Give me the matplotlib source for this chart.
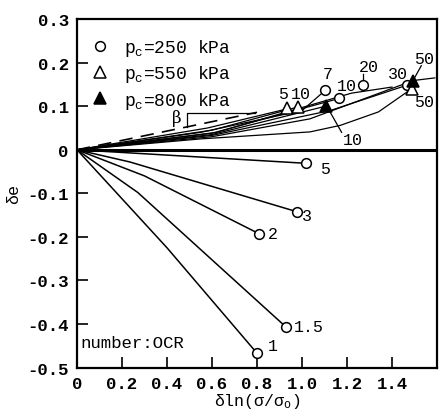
import matplotlib
matplotlib.use("Agg")
import matplotlib.pyplot as plt
import numpy as np

plt.rcParams['font.family'] = ['Liberation Mono', 'DejaVu Sans Mono']
plt.rcParams['mathtext.fontset'] = 'custom'
plt.rcParams['mathtext.rm'] = 'Liberation Mono'
plt.rcParams['mathtext.it'] = 'Liberation Mono'
plt.rcParams['mathtext.tt'] = 'Liberation Mono'
plt.rcParams['axes.unicode_minus'] = False

# ---- data ----
# negative branch (pc=250 kPa, circles), label = OCR
neg_labels = ['5', '3', '2', '1.5', '1']
neg_x = [[0, 1.016], [0, 0.235, 0.976], [0, 0.30, 0.81], [0, 0.27, 0.927], [0, 0.40, 0.80]]
neg_y = [[0, -0.031], [0, -0.028, -0.142], [0, -0.06, -0.193], [0, -0.098, -0.406], [0, -0.225, -0.467]]
neg_lab_x = [1.10, 1.02, 0.87, 1.03, 0.87]
neg_lab_y = [-0.044, -0.152, -0.193, -0.406, -0.45]

# positive branch curves
pos_x = [
    [0, 0.55, 1.00, 1.10],          # circle 7
    [0, 0.60, 1.166],               # circle 10
    [0, 0.62, 1.22, 1.40],          # circle 20
    [0, 0.60, 1.125, 1.465],        # circle 30
    [0, 0.58, 0.935],               # open tri 5
    [0, 0.60, 0.98],                # open tri 10
    [0, 0.55, 1.035, 1.17, 1.34, 1.487],  # open tri 50
    [0, 0.60, 1.105],               # filled tri 10
    [0, 0.60, 1.035, 1.495, 1.59],  # filled tri 50
]
pos_y = [
    [0, 0.040, 0.090, 0.135],
    [0, 0.038, 0.118],
    [0, 0.040, 0.130, 0.144],
    [0, 0.033, 0.090, 0.148],
    [0, 0.050, 0.094],
    [0, 0.045, 0.098],
    [0, 0.025, 0.041, 0.056, 0.087, 0.140],
    [0, 0.035, 0.100],
    [0, 0.030, 0.071, 0.159, 0.165],
]

circ_x = [1.10, 1.166, 1.27, 1.465]
circ_y = [0.137, 0.120, 0.148, 0.149]
circ_lab = ['7', '10', '20', '30']
circ_lab_x = [1.114, 1.198, 1.295, 1.428]
circ_lab_y = [0.175, 0.148, 0.192, 0.175]

otri_x = [0.935, 0.98, 1.487]
otri_y = [0.095, 0.099, 0.140]
otri_lab = ['5', '10', '50']
otri_lab_x = [0.917, 0.995, 1.54]
otri_lab_y = [0.129, 0.129, 0.110]

ftri_x = [1.105, 1.495]
ftri_y = [0.100, 0.159]
ftri_lab = ['10', '50']
ftri_lab_x = [1.228, 1.54]
ftri_lab_y = [0.023, 0.209]

dash_x = [0, 0.80]
dash_y = [0, 0.086]

fig = plt.figure(figsize=(4.41, 4.10), dpi=100)
ax = fig.add_axes([0.1746, 0.101, 0.8164, 0.850])
ax.set_xlim(0, 1.6)
ax.set_ylim(-0.5, 0.3)

lw = 1.1
ax.axhline(0, color='black', lw=2.2, zorder=2)

for xs, ys in zip(neg_x, neg_y):
    ax.plot(xs, ys, color='black', lw=lw, zorder=3)
    ax.plot(xs[-1], ys[-1], 'o', ms=7, mfc='white', mec='black', mew=1.1, zorder=5)
for lx, ly, t in zip(neg_lab_x, neg_lab_y, neg_labels):
    ax.text(lx, ly, t, fontsize=12, ha='center', va='center')

for xs, ys in zip(pos_x, pos_y):
    ax.plot(xs, ys, color='black', lw=0.9, zorder=3)

ax.plot(dash_x, dash_y, color='black', lw=1.2, ls=(0, (8, 5)), zorder=3)
# beta slope triangle
ax.plot([0.49, 0.49, 0.79], [0.053, 0.085, 0.085], color='black', lw=0.9)
ax.text(0.443, 0.073, 'β', fontsize=12, ha='center', va='center', family='DejaVu Serif')

h1, = ax.plot(circ_x, circ_y, 'o', ms=7, mfc='white', mec='black', mew=1.1, ls='none', zorder=5)
h2, = ax.plot(otri_x, otri_y, '^', ms=8, mfc='white', mec='black', mew=1.1, ls='none', zorder=5)
h3, = ax.plot(ftri_x, ftri_y, '^', ms=8, mfc='black', mec='black', mew=1.1, ls='none', zorder=5)

for lx, ly, t in zip(circ_lab_x, circ_lab_y, circ_lab):
    ax.text(lx, ly, t, fontsize=12, ha='center', va='center')
for lx, ly, t in zip(otri_lab_x, otri_lab_y, otri_lab):
    ax.text(lx, ly, t, fontsize=12, ha='center', va='center')
for lx, ly, t in zip(ftri_lab_x, ftri_lab_y, ftri_lab):
    ax.text(lx, ly, t, fontsize=12, ha='center', va='center')

# leader lines
ax.plot([1.27, 1.27], [0.158, 0.175], color='black', lw=0.9)
ax.plot([1.53, 1.50], [0.193, 0.165], color='black', lw=0.9)
ax.plot([1.11, 1.176], [0.100, 0.040], color='black', lw=0.9)

leg = ax.legend([h1, h2, h3],
                [r'p$_{\rm c}$=250 kPa', r'p$_{\rm c}$=550 kPa', r'p$_{\rm c}$=800 kPa'],
                loc='upper left', bbox_to_anchor=(0.0, 0.985), frameon=False,
                fontsize=13, handlelength=1.2, handletextpad=0.7, labelspacing=0.3,
                borderaxespad=0.3)

ax.text(0.016, -0.442, 'number:OCR', fontsize=12.5, ha='left', va='center')

ax.set_xticks([0, 0.2, 0.4, 0.6, 0.8, 1.0, 1.2, 1.4])
ax.set_xticklabels(['0', '0.2', '0.4', '0.6', '0.8', '1.0', '1.2', '1.4'])
ax.set_yticks([0.3, 0.2, 0.1, 0, -0.1, -0.2, -0.3, -0.4, -0.5])
ax.set_yticklabels(['0.3', '0.2', '0.1', '0', '-0.1', '-0.2', '-0.3', '-0.4', '-0.5'])
ax.tick_params(direction='in', length=8, width=1.2, labelsize=12.5, pad=6)
for lab in ax.get_xticklabels() + ax.get_yticklabels():
    lab.set_fontweight('bold')
for s in ax.spines.values():
    s.set_linewidth(1.6)

ax.set_xlabel(r'δln(σ/σ$_{\rm o}$)', fontsize=12, labelpad=0)
ax.set_ylabel('δe', fontsize=12, labelpad=4)

fig.savefig('out.png', dpi=100)
